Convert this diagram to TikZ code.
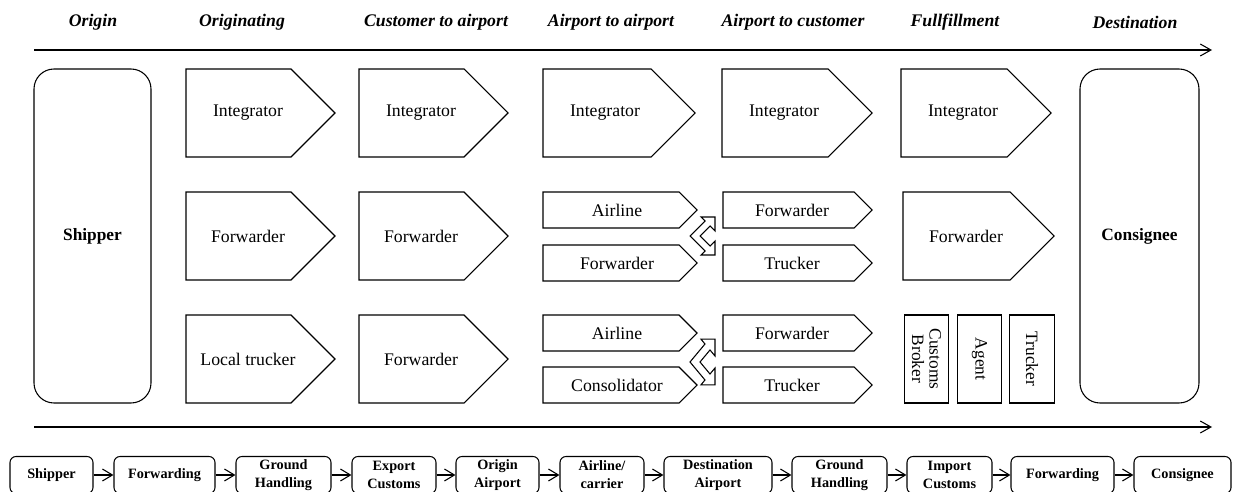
\documentclass[tikz,border=0pt]{standalone}
\usepackage{fontspec}
\setmainfont{Liberation Serif}[
  BoldFont={Liberation Serif Bold},
  ItalicFont={Liberation Serif Italic},
  BoldItalicFont={Liberation Serif Bold Italic}]
\usetikzlibrary{arrows.meta}

% pentagon "arrow box": name, left, top, width incl. point, height, text offset, text
\newcommand{\flowbox}[7]{%
  \draw[outline] (#2,#3) -- ++({#4-#5/2},0) -- ++({#5/2},{#5/2})
    -- ++({-#5/2},{#5/2}) -- ++({-#4+#5/2},0) -- cycle;
  \node[lbl] (#1) at ({#2+#6},{#3+#5/2}) {#7};
}
% bottom process stage: name, left, right, text
\newcommand{\stage}[4]{%
  \node[stagebox, minimum width={(#3-#2)*0.75pt}] (#1) at ({(#2+#3)/2},475) {#4};
}
% hollow double-headed bent arrow, outer vertex at the origin
\newcommand{\handover}{%
  \draw[outline, line width=0.8pt] (0,0) -- (15,-15) -- (11,-19) -- (25,-19) -- (25,-5)
    -- (20,-10) -- (10,0) -- (20,10) -- (25,5) -- (25,19) -- (11,19) -- (15,15) -- cycle;
}

\begin{document}
\begin{tikzpicture}[x=0.75pt,y=-0.75pt,
  outline/.style={draw=black, line width=0.8pt, line join=miter},
  lbl/.style={font=\fontsize{13.3}{15}\selectfont, inner sep=0pt},
  phase/.style={font=\fontsize{13.3}{15}\selectfont\bfseries\itshape, inner sep=0pt},
  party/.style={draw, line width=0.8pt, rounded corners=15pt, inner sep=0pt,
    font=\fontsize{13}{15}\selectfont\bfseries},
  vbox/.style={draw, line width=0.8pt, rotate=-90, inner sep=0pt, align=center,
    minimum width=66pt, minimum height=33.5pt, font=\fontsize{13}{13}\selectfont},
  stagebox/.style={draw, line width=0.8pt, rounded corners=4.5pt, inner sep=0pt,
    minimum height=27.75pt, align=center,
    font=\fontsize{10.7}{13.5}\selectfont\bfseries},
  axis/.style={line width=0.8pt, -{Straight Barb[length=8pt,width=9pt]}},
  chain/.style={line width=0.8pt, -{Straight Barb[length=7.5pt,width=9pt]}}
]
\useasboundingbox (0,0) rectangle (1233,492);

% phase headings
\node[phase] (hOrigin) at (93,22) {Origin};
\node[phase] (hOrig)   at (242,22) {Originating};
\node[phase] (hC2A)    at (436,22) {Customer to airport};
\node[phase] (hA2A)    at (611,22) {Airport to airport};
\node[phase] (hA2C)    at (793,22) {Airport to customer};
\node[phase] (hFul)    at (955,22) {Fullfillment};
\node[phase] (hDest)   at (1135,22) {Destination};

% time axes
\coordinate (topL) at (34,50);
\coordinate (topR) at (1212,50);
\coordinate (botL) at (34,427);
\coordinate (botR) at (1212,427);
\draw[axis] (topL) -- (topR);
\draw[axis] (botL) -- (botR);

% shipper and consignee
\node[party, minimum width=87.75pt, minimum height=250.5pt] (shipper) at (92.5,236) {Shipper};
\node[party, minimum width=89.25pt, minimum height=250.5pt] (consignee) at (1139.5,236) {Consignee};

% row 1: integrators
\flowbox{intA}{186}{69}{149}{88}{62}{Integrator}
\flowbox{intB}{359}{69}{149}{88}{62}{Integrator}
\flowbox{intC}{543}{69}{152}{88}{62}{Integrator}
\flowbox{intD}{722}{69}{150}{88}{62}{Integrator}
\flowbox{intE}{901}{69}{150}{88}{62}{Integrator}

% row 2: forwarders
\flowbox{fwdA}{186}{192}{149}{88}{62}{Forwarder}
\flowbox{fwdB}{359}{192}{149}{88}{62}{Forwarder}
\flowbox{airA}{543}{192}{154}{36}{74}{Airline}
\flowbox{fwdC}{543}{245}{154}{36}{74}{Forwarder}
\flowbox{fwdD}{723}{192}{149}{36}{69}{Forwarder}
\flowbox{trkA}{723}{245}{149}{36}{69}{Trucker}
\flowbox{fwdE}{903}{192}{151}{88}{63}{Forwarder}
\begin{scope}[shift={(690,236)}]
  \handover
\end{scope}

% row 3: local trucking and consolidation
\flowbox{locT}{186}{315}{149}{88}{62}{Local trucker}
\flowbox{fwdF}{359}{315}{149}{88}{62}{Forwarder}
\flowbox{airB}{543}{315}{154}{36}{74}{Airline}
\flowbox{cons}{543}{367}{154}{36}{74}{Consolidator}
\flowbox{fwdG}{723}{315}{149}{36}{69}{Forwarder}
\flowbox{trkB}{723}{367}{149}{36}{69}{Trucker}
\begin{scope}[shift={(690,362)}, yscale=1.2]
  \handover
\end{scope}
\node[vbox] (broker) at (926.5,359) {Customs\\Broker};
\node[vbox] (agent)  at (979.5,359) {Agent};
\node[vbox] (trkC)   at (1032,359) {Trucker};

% process chain
\stage{s1}{10}{93}{Shipper}
\stage{s2}{114}{215}{Forwarding}
\stage{s3}{236}{331}{Ground\\Handling}
\stage{s4}{352}{436}{Export\\Customs}
\stage{s5}{456}{539}{Origin\\Airport}
\stage{s6}{560}{644}{Airline/\\carrier}
\stage{s7}{664}{772}{Destination\\Airport}
\stage{s8}{792}{887}{Ground\\Handling}
\stage{s9}{907}{992}{Import\\Customs}
\stage{s10}{1011}{1114}{Forwarding}
\stage{s11}{1134}{1231}{Consignee}
\foreach \a/\b in {s1/s2,s2/s3,s3/s4,s4/s5,s5/s6,s6/s7,s7/s8,s8/s9,s9/s10,s10/s11}
  \draw[chain] (\a.east) -- (\b.west);
\end{tikzpicture}
\end{document}
